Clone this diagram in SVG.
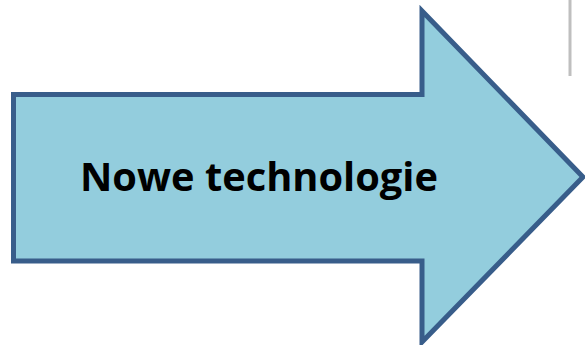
<svg xmlns="http://www.w3.org/2000/svg" width="585" height="345" viewBox="0 0 585 345">
<style>
.arrow{fill:#93CDDD;stroke:#385D8A;stroke-width:5;stroke-linejoin:miter}
.lbl{font-family:"Open Sans","Liberation Sans",sans-serif;font-weight:bold;font-size:39px;fill:#000}
</style>
<rect width="585" height="345" fill="#fff"/>
<line x1="570" y1="0" x2="570" y2="76" stroke="#BFBFBF" stroke-width="3"/>
<g id="arrow">
<path class="arrow" d="M13.5,94.5 L422,94.5 L422,11 L583,177 L422,342 L422,261 L13.5,261 Z"/>
<text class="lbl" x="80" y="191" textLength="358" lengthAdjust="spacingAndGlyphs">Nowe technologie</text>
</g>
<g id="connectors"/>
</svg>
